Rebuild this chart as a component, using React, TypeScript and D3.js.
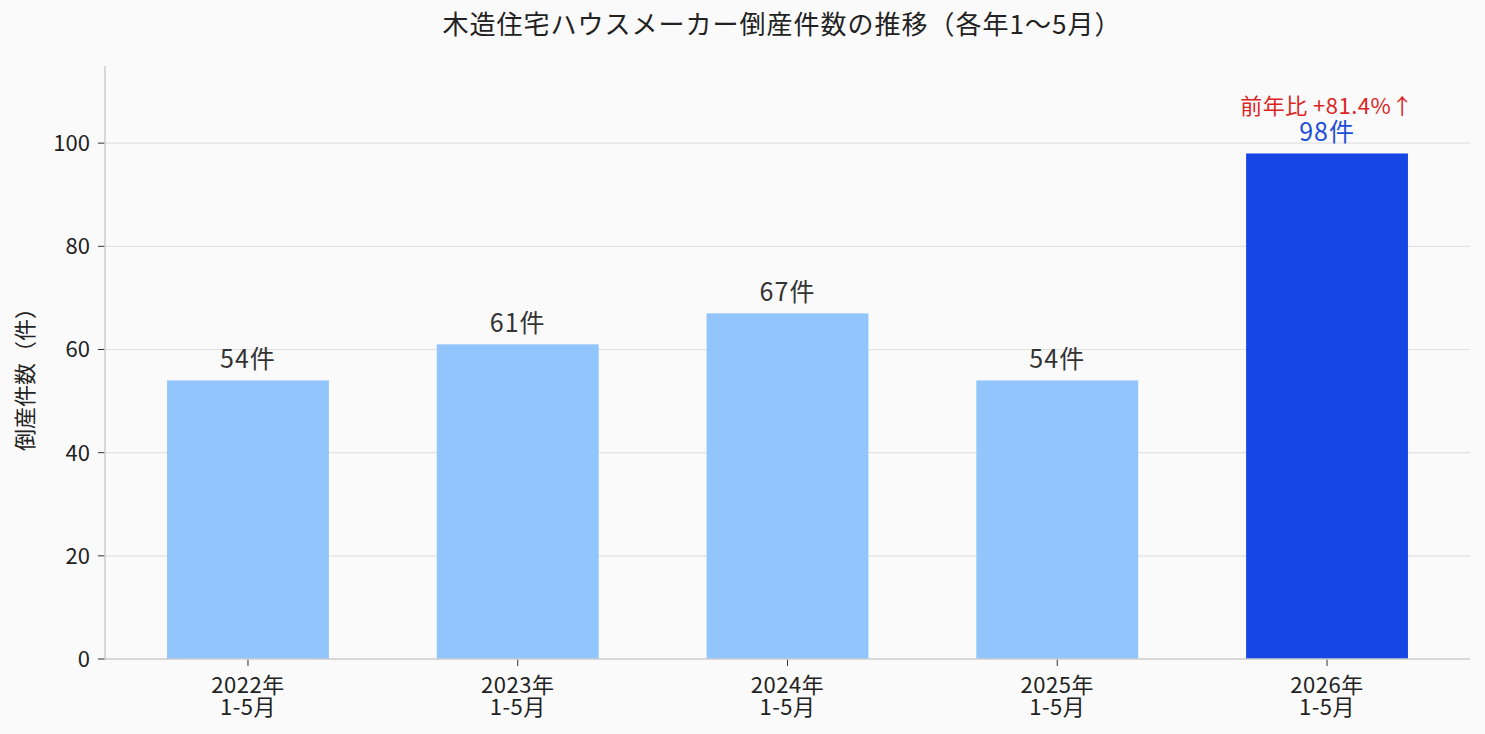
import * as d3 from "d3";

const years = ["2022年", "2023年", "2024年", "2025年", "2026年"];
const period = "1-5月";
const counts = [54, 61, 67, 54, 98];
const yTicks = [0, 20, 40, 60, 80, 100];
const growthNote = "前年比 +81.4%↑";

const width = 1485;
const height = 734;
const margin = { top: 66, right: 15, bottom: 75, left: 105 };
const font = "'Noto Sans CJK JP', 'Noto Sans', sans-serif";

const App = () => {
  const x = d3
    .scaleLinear()
    .domain([-0.53, years.length - 1 + 0.53])
    .range([margin.left, width - margin.right]);
  const y = d3
    .scaleLinear()
    .domain([0, d3.max(counts)! * 1.173])
    .range([height - margin.bottom, margin.top]);
  const barW = x(0.6) - x(0);
  const last = counts.length - 1;

  return (
    <svg
      width={width}
      height={height}
      style={{ display: "block", position: "absolute", left: 0, top: 0 }}
      fontFamily={font}
    >
      <rect width={width} height={height} fill="#fafafa" />
      <text x={782} y={34} textAnchor="middle" fontSize={26} letterSpacing={1} fill="#222">
        木造住宅ハウスメーカー倒産件数の推移（各年1～5月）
      </text>

      {yTicks.map((t) => (
        <g key={t}>
          {t > 0 && (
            <line x1={margin.left} x2={width - margin.right} y1={y(t)} y2={y(t)} stroke="#e2e2e2" strokeWidth={1.2} />
          )}
          <line x1={margin.left - 7} x2={margin.left} y1={y(t)} y2={y(t)} stroke="#333" />
          <text x={margin.left - 15} y={y(t)} dy="0.36em" textAnchor="end" fontSize={22} fill="#222">
            {t}
          </text>
        </g>
      ))}

      {counts.map((c, i) => (
        <g key={i}>
          <rect
            x={x(i) - barW / 2}
            width={barW}
            y={y(c)}
            height={y(0) - y(c)}
            fill={i === last ? "#1646e4" : "#93c5fd"}
          />
          <text
            x={x(i)}
            y={y(c) - 12}
            textAnchor="middle"
            fontSize={25}
            letterSpacing={1}
            fill={i === last ? "#1d4ed8" : "#333"}
          >
            {c}件
          </text>
          <line x1={x(i)} x2={x(i)} y1={y(0)} y2={y(0) + 7} stroke="#333" />
          {/* two-line category label */}
          <text x={x(i)} y={693} textAnchor="middle" fontSize={22} letterSpacing={0.5} fill="#222">
            <tspan x={x(i)}>{years[i]}</tspan>
            <tspan x={x(i)} dy={22}>
              {period}
            </tspan>
          </text>
        </g>
      ))}

      <text x={x(last)} y={y(counts[last]) - 39} textAnchor="middle" fontSize={22} letterSpacing={0.5} fill="#dc2626">
        {growthNote}
      </text>

      <line x1={margin.left} x2={margin.left} y1={margin.top} y2={y(0)} stroke="#ccc" strokeWidth={1.5} />
      <line x1={margin.left} x2={width - margin.right} y1={y(0)} y2={y(0)} stroke="#ccc" strokeWidth={1.5} />

      <text
        transform={`translate(${33},${374}) rotate(-90)`}
        textAnchor="middle"
        fontSize={22}
        fill="#222"
      >
        倒産件数（件）
      </text>
    </svg>
  );
};

export default App;
